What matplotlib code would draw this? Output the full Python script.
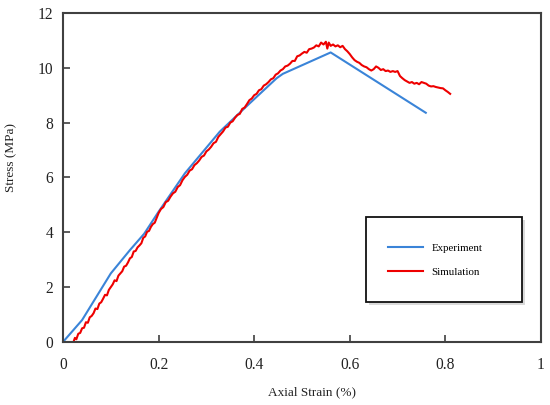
import matplotlib
matplotlib.use("Agg")
import matplotlib.pyplot as plt
from matplotlib.patches import Rectangle

plt.rcParams['font.family'] = ['Liberation Serif', 'DejaVu Serif']

# experiment (blue)
exp_strain = [0.0, 0.04, 0.10, 0.14, 0.17, 0.20, 0.255, 0.328, 0.391, 0.447, 0.46, 0.56, 0.759]
exp_stress = [0.0, 0.80, 2.50, 3.35, 3.95, 4.75, 6.15, 7.67, 8.71, 9.62, 9.78, 10.56, 8.36]

# simulation (red), traced with its small wiggles
sim_strain = [0.022, 0.025, 0.028, 0.032, 0.036, 0.040, 0.044, 0.048, 0.052, 0.056,
              0.060, 0.064, 0.068, 0.072, 0.076, 0.080, 0.084, 0.088, 0.092, 0.096,
              0.100, 0.104, 0.108, 0.112, 0.116, 0.120, 0.124, 0.128, 0.132, 0.136,
              0.140, 0.144, 0.148, 0.152, 0.156, 0.160, 0.164, 0.168, 0.172, 0.176,
              0.180, 0.184, 0.188, 0.192, 0.196, 0.200, 0.205, 0.210, 0.215, 0.220,
              0.225, 0.230, 0.235, 0.240, 0.245, 0.250, 0.255, 0.260, 0.265, 0.270,
              0.275, 0.280, 0.285, 0.290, 0.295, 0.300, 0.305, 0.310, 0.315, 0.320,
              0.325, 0.330, 0.335, 0.340, 0.345, 0.350, 0.355, 0.360, 0.365, 0.370,
              0.375, 0.380, 0.385, 0.390, 0.395, 0.400, 0.405, 0.410, 0.415, 0.420,
              0.425, 0.430, 0.435, 0.440, 0.445, 0.450, 0.455, 0.460, 0.465, 0.470,
              0.475, 0.480, 0.485, 0.490, 0.495, 0.500, 0.505, 0.510, 0.515, 0.520,
              0.525, 0.530, 0.535, 0.540, 0.545, 0.550, 0.553, 0.556, 0.560, 0.565,
              0.570, 0.575, 0.580, 0.585, 0.590, 0.595, 0.600, 0.605, 0.610, 0.615,
              0.620, 0.625, 0.630, 0.635, 0.640, 0.645, 0.650, 0.655, 0.660, 0.665,
              0.670, 0.675, 0.680, 0.685, 0.690, 0.695, 0.700, 0.705, 0.710, 0.715,
              0.720, 0.725, 0.730, 0.735, 0.740, 0.745, 0.750, 0.755, 0.760, 0.765,
              0.770, 0.775, 0.780, 0.785, 0.790, 0.795, 0.800, 0.805, 0.810]
sim_stress = [0.00, 0.15, 0.10, 0.30, 0.33, 0.50, 0.52, 0.72, 0.70, 0.90,
              0.95, 1.05, 1.22, 1.20, 1.40, 1.45, 1.58, 1.72, 1.70, 1.90,
              2.00, 2.10, 2.25, 2.22, 2.42, 2.50, 2.58, 2.75, 2.78, 2.90,
              3.05, 3.10, 3.30, 3.32, 3.45, 3.52, 3.60, 3.80, 3.85, 4.02,
              4.05, 4.20, 4.30, 4.35, 4.52, 4.70, 4.85, 4.92, 5.10, 5.15,
              5.30, 5.42, 5.48, 5.65, 5.72, 5.90, 6.02, 6.10, 6.25, 6.30,
              6.45, 6.52, 6.62, 6.75, 6.80, 6.95, 7.02, 7.12, 7.25, 7.30,
              7.48, 7.58, 7.68, 7.82, 7.85, 8.00, 8.05, 8.18, 8.28, 8.32,
              8.50, 8.55, 8.68, 8.82, 8.88, 9.00, 9.05, 9.18, 9.22, 9.35,
              9.40, 9.48, 9.58, 9.62, 9.75, 9.80, 9.90, 9.95, 10.05, 10.08,
              10.15, 10.25, 10.25, 10.42, 10.45, 10.52, 10.58, 10.55, 10.68, 10.70,
              10.74, 10.82, 10.78, 10.92, 10.85, 10.95, 10.70, 10.92, 10.80, 10.85,
              10.78, 10.82, 10.75, 10.80, 10.68, 10.60, 10.50, 10.38, 10.28, 10.22,
              10.18, 10.10, 10.05, 10.02, 9.95, 9.90, 9.95, 10.05, 10.00, 9.92,
              9.95, 9.88, 9.90, 9.85, 9.88, 9.85, 9.88, 9.70, 9.62, 9.55,
              9.50, 9.45, 9.48, 9.42, 9.45, 9.40, 9.48, 9.45, 9.42, 9.35,
              9.32, 9.33, 9.30, 9.28, 9.26, 9.25, 9.18, 9.12, 9.05]

x_ticks = [0, 0.2, 0.4, 0.6, 0.8, 1]
x_tick_labels = ['0', '0.2', '0.4', '0.6', '0.8', '1']
y_ticks = [0, 2, 4, 6, 8, 10, 12]

fig = plt.figure(figsize=(5.5, 4.05), dpi=100)
ax = fig.add_axes([0.1145, 0.1556, 0.8691, 0.8124])

ax.plot(exp_strain, exp_stress, color='#3a84d8', lw=1.5, label='Experiment')
ax.plot(sim_strain, sim_stress, color='#ee0000', lw=1.5, label='Simulation')

ax.set_xlim(0, 1)
ax.set_ylim(0, 12)
ax.set_xticks(x_ticks)
ax.set_xticklabels(x_tick_labels)
ax.set_yticks(y_ticks)
ax.tick_params(direction='in', length=5, width=1.2, colors='#404040',
               labelcolor='#222222', labelsize=11.2)
ax.tick_params(axis='y', pad=7)
ax.tick_params(axis='x', pad=10.5)
for s in ax.spines.values():
    s.set_color('#404040')
    s.set_linewidth(1.5)

ax.set_xlabel('Axial Strain (%)', fontsize=9.5, color='#222222')
ax.xaxis.set_label_coords(0.522, -0.136)
ax.set_ylabel('Stress (MPa)', fontsize=9.5, color='#222222')
ax.yaxis.set_label_coords(-0.096, 0.562)

# legend box with a soft shadow
ax.add_patch(Rectangle((0.640, 0.112), 0.326, 0.258, transform=ax.transAxes,
                       facecolor='#dadada', edgecolor='none', zorder=4))
ax.add_patch(Rectangle((0.634, 0.1216), 0.326, 0.258, transform=ax.transAxes,
                       facecolor='white', edgecolor='#111111', lw=1.3, zorder=5))
leg = ax.legend(loc='center left', bbox_to_anchor=(0.680, 0.249), frameon=False,
                fontsize=7.8, handlelength=3.2, handletextpad=0.8,
                labelspacing=1.35, borderpad=0, borderaxespad=0)
leg.set_zorder(6)

fig.savefig('out.png', dpi=100)
